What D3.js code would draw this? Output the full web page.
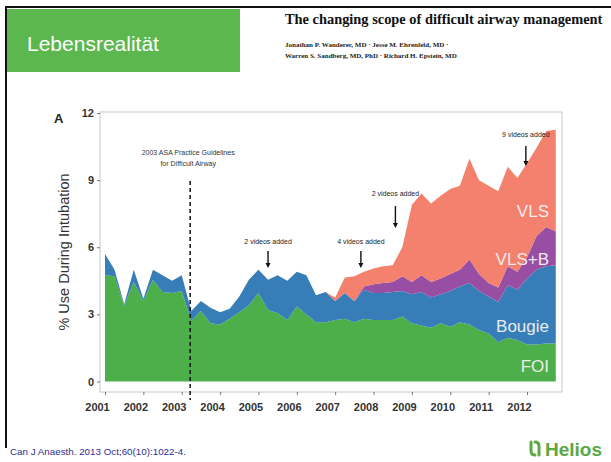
<!DOCTYPE html>
<html><head><meta charset="utf-8">
<script src="https://cdn.jsdelivr.net/npm/d3@7/dist/d3.min.js"></script>
<style>
html,body{margin:0;padding:0;background:#fff;}
svg{display:block;}
</style></head>
<body>
<svg id="c" width="611" height="462"></svg>
<script>
// ---------- DATA ----------
const years = [2001,2001.25,2001.5,2001.75,2002,2002.25,2002.5,2002.75,2003,2003.25,2003.5,2003.75,
  2004,2004.25,2004.5,2004.75,2005,2005.25,2005.5,2005.75,2006,2006.25,2006.5,2006.75,
  2007,2007.25,2007.5,2007.75,2008,2008.25,2008.5,2008.75,2009,2009.25,2009.5,2009.75,
  2010,2010.25,2010.5,2010.75,2011,2011.25,2011.5,2011.75,2012,2012.25,2012.5,2012.75];
const foi = [4.75,4.7,3.4,4.45,3.6,4.55,4.0,3.95,4.05,2.7,3.15,2.6,
  2.55,2.8,3.1,3.4,3.95,3.2,3.05,2.75,3.35,3.0,2.65,2.65,
  2.75,2.8,2.65,2.8,2.75,2.75,2.75,2.9,2.6,2.5,2.4,2.6,
  2.45,2.65,2.55,2.3,2.15,1.75,1.95,1.85,1.65,1.65,1.7,1.7];
const bougie = [0.95,0.3,0.05,0.55,0.1,0.45,0.75,0.55,0.7,0.45,0.45,0.7,
  0.55,0.45,0.7,1.15,1.05,1.35,1.7,1.75,1.55,1.75,1.2,1.35,
  0.85,1.15,0.95,1.3,1.2,1.2,1.25,1.15,1.3,1.5,1.35,1.3,
  1.6,1.6,1.85,1.75,1.65,1.8,2.35,2.25,2.95,3.35,3.45,3.5];
const vlsb = [0,0,0,0,0,0,0,0,0,0,0,0,
  0,0,0,0,0,0,0,0,0,0,0,0,
  0,0,0,0.15,0.4,0.45,0.45,0.65,0.55,0.75,0.7,0.7,
  0.75,0.75,1.05,0.75,0.6,0.65,0.85,0.8,0.95,1.5,1.75,1.5];
const vls = [0,0,0,0,0,0,0,0,0,0,0,0,
  0,0,0,0,0,0,0,0,0,0,0,0,
  0.15,0.7,1.1,0.65,0.7,0.75,0.75,1.3,3.45,3.65,3.5,3.7,
  3.8,3.75,4.5,4.2,4.35,4.3,4.45,4.2,4.2,3.95,4.3,4.55];
const seriesNames = ["FOI","Bougie","VLS+B","VLS"];
const seriesColors = ["#4daf4a","#377eb8","#984ea3","#f4806e"];
const yTicks = [0,3,6,9,12];
const xTicks = [2001,2002,2003,2004,2005,2006,2007,2008,2009,2010,2011,2012];
const guidelineYear = 2003.22;
const annotations = [
  {text:"2 videos added", year:2005.25, level:"low"},
  {text:"4 videos added", year:2007.67, level:"low"},
  {text:"2 videos added", year:2008.57, level:"mid"},
  {text:"9 videos added", year:2011.97, level:"high"}
];

// ---------- DRAW ----------
const svg = d3.select("#c");
const FONT = "'Liberation Sans', Arial, sans-serif";
const SERIF = "'Liberation Serif', 'Times New Roman', serif";

// slide frame
svg.append("rect").attr("x",0).attr("y",0).attr("width",611).attr("height",462).attr("fill","#fff");
svg.append("line").attr("x1",5).attr("x2",611).attr("y1",7).attr("y2",7).attr("stroke","#111").attr("stroke-width",2);
svg.append("line").attr("x1",6).attr("x2",6).attr("y1",6).attr("y2",448).attr("stroke","#111").attr("stroke-width",2);
svg.append("rect").attr("x",7).attr("y",9).attr("width",233).attr("height",63).attr("fill","#5cb74f");
svg.append("text").attr("x",27).attr("y",51).attr("fill","#fff").attr("font-family",FONT)
  .attr("font-size",21).text("Lebensrealität");

svg.append("text").attr("x",285).attr("y",24).attr("font-family",SERIF).attr("font-weight","bold")
  .attr("font-size",14.4).attr("fill","#111").text("The changing scope of difficult airway management");
svg.append("text").attr("x",285).attr("y",47).attr("font-family",SERIF).attr("font-weight","bold")
  .attr("font-size",7).attr("fill","#222").text("Jonathan P. Wanderer, MD · Jesse M. Ehrenfeld, MD ·");
svg.append("text").attr("x",285).attr("y",58).attr("font-family",SERIF).attr("font-weight","bold")
  .attr("font-size",7).attr("fill","#222").text("Warren S. Sandberg, MD, PhD · Richard H. Epstein, MD");

// chart
const x = d3.scaleLinear().domain([2001,2012]).range([105,527]);
const y = d3.scaleLinear().domain([0,12]).range([381.5,113]);

const rows = years.map((yr,i)=>({year:yr, "FOI":foi[i], "Bougie":bougie[i], "VLS+B":vlsb[i], "VLS":vls[i]}));
const stack = d3.stack().keys(seriesNames)(rows);
const area = d3.area().x(d=>x(d.data.year)).y0(d=>y(d[0])).y1(d=>y(d[1]));

svg.append("rect").attr("x",100).attr("y",112).attr("width",462).attr("height",280)
  .attr("fill","none").attr("stroke","#d4d4d4").attr("stroke-width",1.3);

svg.append("g").selectAll("path").data(stack).join("path")
  .attr("d",area).attr("fill",(d,i)=>seriesColors[i]);

// axes
const yAxis = svg.append("g").attr("transform","translate(100,0)")
  .call(d3.axisLeft(y).tickValues(yTicks).tickSize(3).tickPadding(3));
yAxis.select(".domain").remove();
yAxis.selectAll("line").attr("stroke","#777");
yAxis.selectAll("text").attr("font-family",FONT).attr("font-weight","bold").attr("font-size",11).attr("fill","#333");

const xAxis = svg.append("g").attr("transform","translate(0,392)")
  .call(d3.axisBottom(x).tickValues(xTicks).tickFormat(d3.format("d")).tickSize(3).tickPadding(8));
xAxis.select(".domain").remove();
xAxis.selectAll("line").attr("stroke","#777");
xAxis.selectAll("text").attr("font-family",FONT).attr("font-weight","bold").attr("font-size",11)
  .attr("fill","#333").attr("dx",-8);

svg.append("text").attr("transform","translate(69,252) rotate(-90)").attr("text-anchor","middle")
  .attr("font-family",FONT).attr("font-size",14.5).attr("fill","#333").text("% Use During Intubation");
svg.append("text").attr("x",54).attr("y",123).attr("font-family",FONT).attr("font-weight","bold")
  .attr("font-size",13).attr("fill","#222").text("A");

// guideline
svg.append("line").attr("x1",x(guidelineYear)).attr("x2",x(guidelineYear)).attr("y1",181).attr("y2",400)
  .attr("stroke","#111").attr("stroke-width",1.5).attr("stroke-dasharray","4,3");
svg.append("text").attr("x",x(guidelineYear)-2).attr("y",155).attr("text-anchor","middle")
  .attr("font-family",FONT).attr("font-size",7).attr("fill","#333").text("2003 ASA Practice Guidelines");
svg.append("text").attr("x",x(guidelineYear)-2).attr("y",166).attr("text-anchor","middle")
  .attr("font-family",FONT).attr("font-size",7).attr("fill","#333").text("for Difficult Airway");

// annotations
const levels = {low:{ty:244, a1:251, a2:268}, mid:{ty:196, a1:206, a2:228}, high:{ty:137, a1:146, a2:166}};
annotations.forEach(a=>{
  const L = levels[a.level];
  const xx = x(a.year);
  svg.append("text").attr("x",xx).attr("y",L.ty).attr("text-anchor","middle")
    .attr("font-family",FONT).attr("font-size",7).attr("fill","#222").text(a.text);
  svg.append("line").attr("x1",xx).attr("x2",xx).attr("y1",L.a1).attr("y2",L.a2-4)
    .attr("stroke","#111").attr("stroke-width",1.4);
  svg.append("path").attr("d",`M${xx-2.5},${L.a2-5} L${xx+2.5},${L.a2-5} L${xx},${L.a2} Z`).attr("fill","#111");
});

// series labels
const labelY = {"VLS":217, "VLS+B":265, "Bougie":332, "FOI":372};
seriesNames.forEach(n=>{
  svg.append("text").attr("x",549).attr("y",labelY[n]).attr("text-anchor","end")
    .attr("font-family",FONT).attr("font-size",17).attr("fill","#f4f1f4").attr("opacity",0.95).text(n);
});

// footer
svg.append("text").attr("x",10).attr("y",455).attr("font-family",FONT).attr("font-size",9.8)
  .attr("fill","#2b2f8f").text("Can J Anaesth. 2013 Oct;60(10):1022-4.");
svg.append("text").attr("x",545).attr("y",456).attr("font-family",FONT).attr("font-weight","bold")
  .attr("font-size",19).attr("fill","#5aa846").text("Helios");
const logo = svg.append("g").attr("transform","translate(528,441)").attr("fill","none")
  .attr("stroke","#5aa846").attr("stroke-width",3).attr("stroke-linecap","round");
logo.append("path").attr("d","M3,1 L3,10 Q3,14 7,14");
logo.append("path").attr("d","M11,14 L11,5 Q11,1 7,1");
</script>
</body></html>
